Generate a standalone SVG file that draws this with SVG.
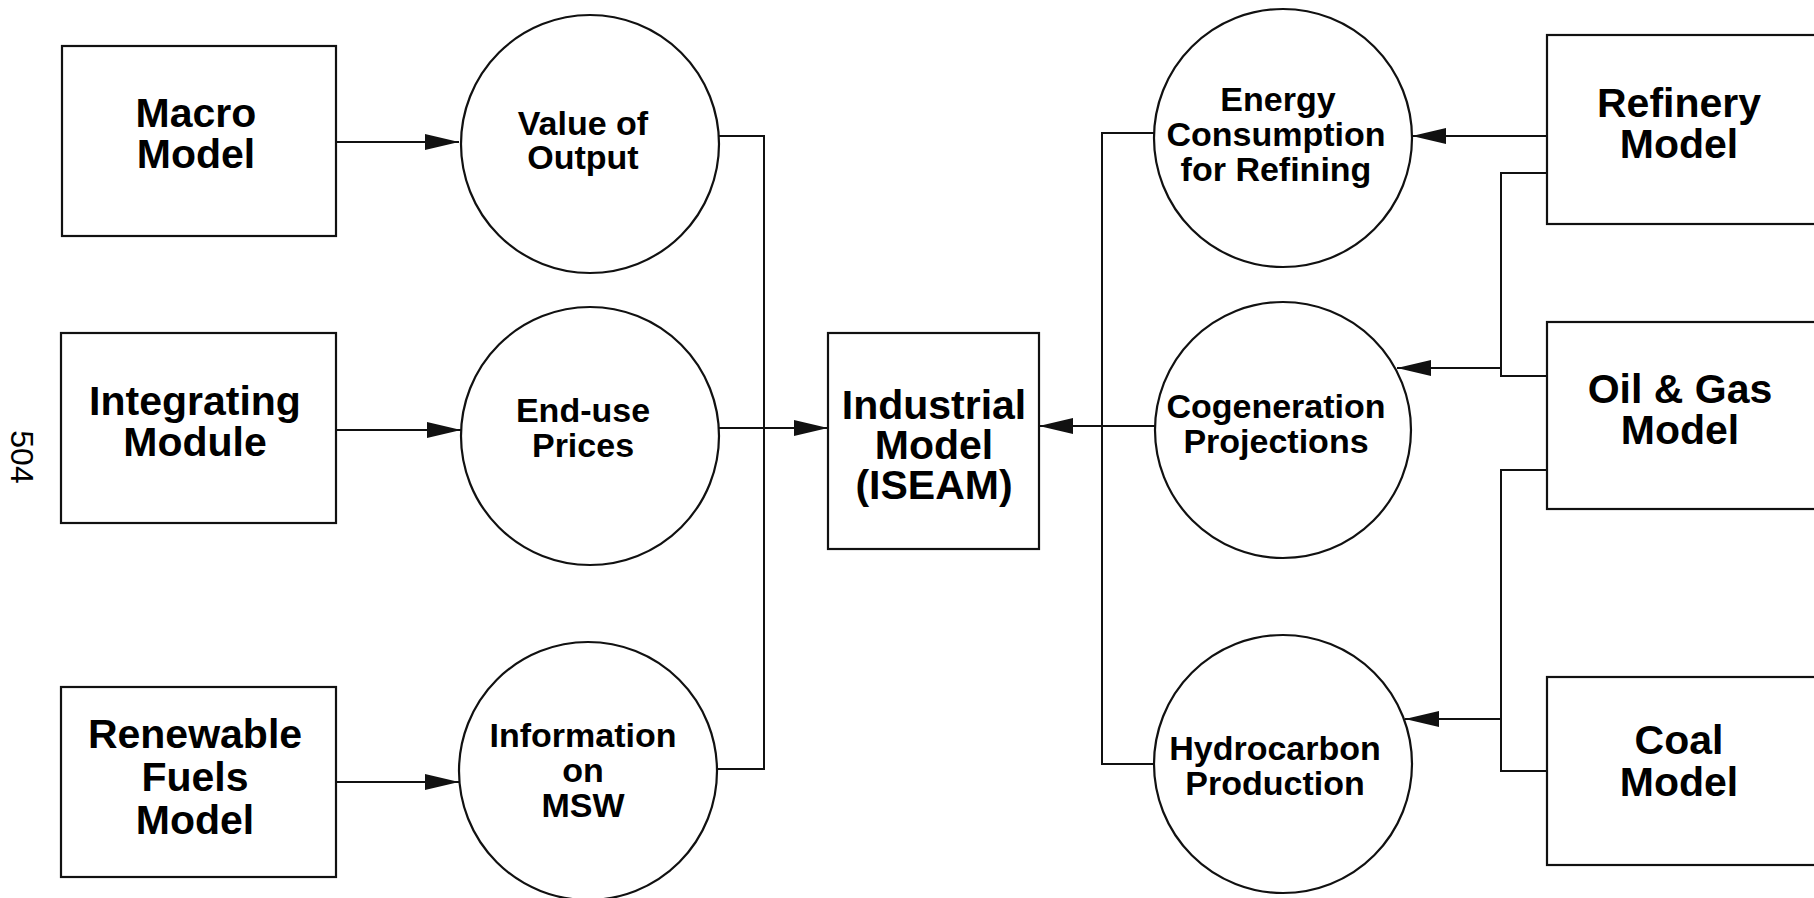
<svg xmlns="http://www.w3.org/2000/svg" width="1814" height="898" viewBox="0 0 1814 898">
  <style>
    .box { fill: #fff; stroke: #111; stroke-width: 2.2; }
    .node { fill: #fff; stroke: #111; stroke-width: 2.2; }
    .wire { fill: none; stroke: #111; stroke-width: 2; }
    .arrow { marker-end: url(#head); }
    .t { font-family: "Liberation Sans", Arial, Helvetica, sans-serif; font-weight: bold; text-anchor: middle; fill: #000; }
    .tb { font-size: 41px; }
    .tc { font-size: 34px; }
    .pg { font-family: "Liberation Sans", Arial, sans-serif; font-size: 32px; fill: #000; text-anchor: middle; }
  </style>
  <defs>
    <marker id="head" markerUnits="userSpaceOnUse" markerWidth="34" markerHeight="16" refX="34" refY="8" orient="auto">
      <path d="M0,0 L34,8 L0,16 Z" fill="#111"/>
    </marker>
  </defs>
  <rect width="1814" height="898" fill="#fff"/>

  <!-- page number -->
  <text class="pg" transform="translate(11,457) rotate(90)">504</text>

  <!-- connectors -->
  <g id="connectors">
    <path class="wire arrow" d="M336,142 H459"/>
    <path class="wire arrow" d="M336,430 H461"/>
    <path class="wire arrow" d="M336,782 H459"/>
    <path class="wire" d="M719,136 H764 V769 H717"/>
    <path class="wire arrow" d="M718,428 H828"/>
    <path class="wire" d="M1155,133 H1102 V764 H1153"/>
    <path class="wire arrow" d="M1155,426 H1039"/>
    <path class="wire arrow" d="M1547,136 H1412"/>
    <path class="wire" d="M1547,173 H1501 V376 H1547"/>
    <path class="wire arrow" d="M1501,368 H1397"/>
    <path class="wire" d="M1547,470 H1501 V771 H1547"/>
    <path class="wire arrow" d="M1501,719 H1405"/>
  </g>

  <!-- source models, left -->
  <g id="macro-model">
    <rect class="box" x="62" y="46" width="274" height="190"/>
    <text class="t tb" x="196" y="127">Macro</text>
    <text class="t tb" x="196" y="168">Model</text>
  </g>
  <g id="integrating-module">
    <rect class="box" x="61" y="333" width="275" height="190"/>
    <text class="t tb" x="195" y="415">Integrating</text>
    <text class="t tb" x="195" y="456">Module</text>
  </g>
  <g id="renewable-fuels-model">
    <rect class="box" x="61" y="687" width="275" height="190"/>
    <text class="t tb" x="195" y="748">Renewable</text>
    <text class="t tb" x="195" y="791">Fuels</text>
    <text class="t tb" x="195" y="834">Model</text>
  </g>

  <!-- inputs, left -->
  <g id="value-of-output">
    <circle class="node" cx="590" cy="144" r="129"/>
    <text class="t tc" x="583" y="135">Value of</text>
    <text class="t tc" x="583" y="169">Output</text>
  </g>
  <g id="end-use-prices">
    <circle class="node" cx="590" cy="436" r="129"/>
    <text class="t tc" x="583" y="422">End-use</text>
    <text class="t tc" x="583" y="457">Prices</text>
  </g>
  <g id="information-on-msw">
    <circle class="node" cx="588" cy="771" r="129"/>
    <text class="t tc" x="583" y="747">Information</text>
    <text class="t tc" x="583" y="782">on</text>
    <text class="t tc" x="583" y="817">MSW</text>
  </g>

  <!-- central model -->
  <g id="industrial-model">
    <rect class="box" x="828" y="333" width="211" height="216"/>
    <text class="t tb" x="934" y="419">Industrial</text>
    <text class="t tb" x="934" y="459">Model</text>
    <text class="t tb" x="934" y="499">(ISEAM)</text>
  </g>

  <!-- inputs, right -->
  <g id="energy-consumption-for-refining">
    <circle class="node" cx="1283" cy="138" r="129"/>
    <text class="t tc" x="1278" y="111">Energy</text>
    <text class="t tc" x="1276" y="146">Consumption</text>
    <text class="t tc" x="1276" y="181">for Refining</text>
  </g>
  <g id="cogeneration-projections">
    <circle class="node" cx="1283" cy="430" r="128"/>
    <text class="t tc" x="1276" y="418">Cogeneration</text>
    <text class="t tc" x="1276" y="453">Projections</text>
  </g>
  <g id="hydrocarbon-production">
    <circle class="node" cx="1283" cy="764" r="129"/>
    <text class="t tc" x="1275" y="760">Hydrocarbon</text>
    <text class="t tc" x="1275" y="795">Production</text>
  </g>

  <!-- source models, right -->
  <g id="refinery-model">
    <rect class="box" x="1547" y="35" width="290" height="189"/>
    <text class="t tb" x="1679" y="117">Refinery</text>
    <text class="t tb" x="1679" y="158">Model</text>
  </g>
  <g id="oil-gas-model">
    <rect class="box" x="1547" y="322" width="290" height="187"/>
    <text class="t tb" x="1680" y="403">Oil &amp; Gas</text>
    <text class="t tb" x="1680" y="444">Model</text>
  </g>
  <g id="coal-model">
    <rect class="box" x="1547" y="677" width="290" height="188"/>
    <text class="t tb" x="1679" y="754">Coal</text>
    <text class="t tb" x="1679" y="796">Model</text>
  </g>
</svg>
